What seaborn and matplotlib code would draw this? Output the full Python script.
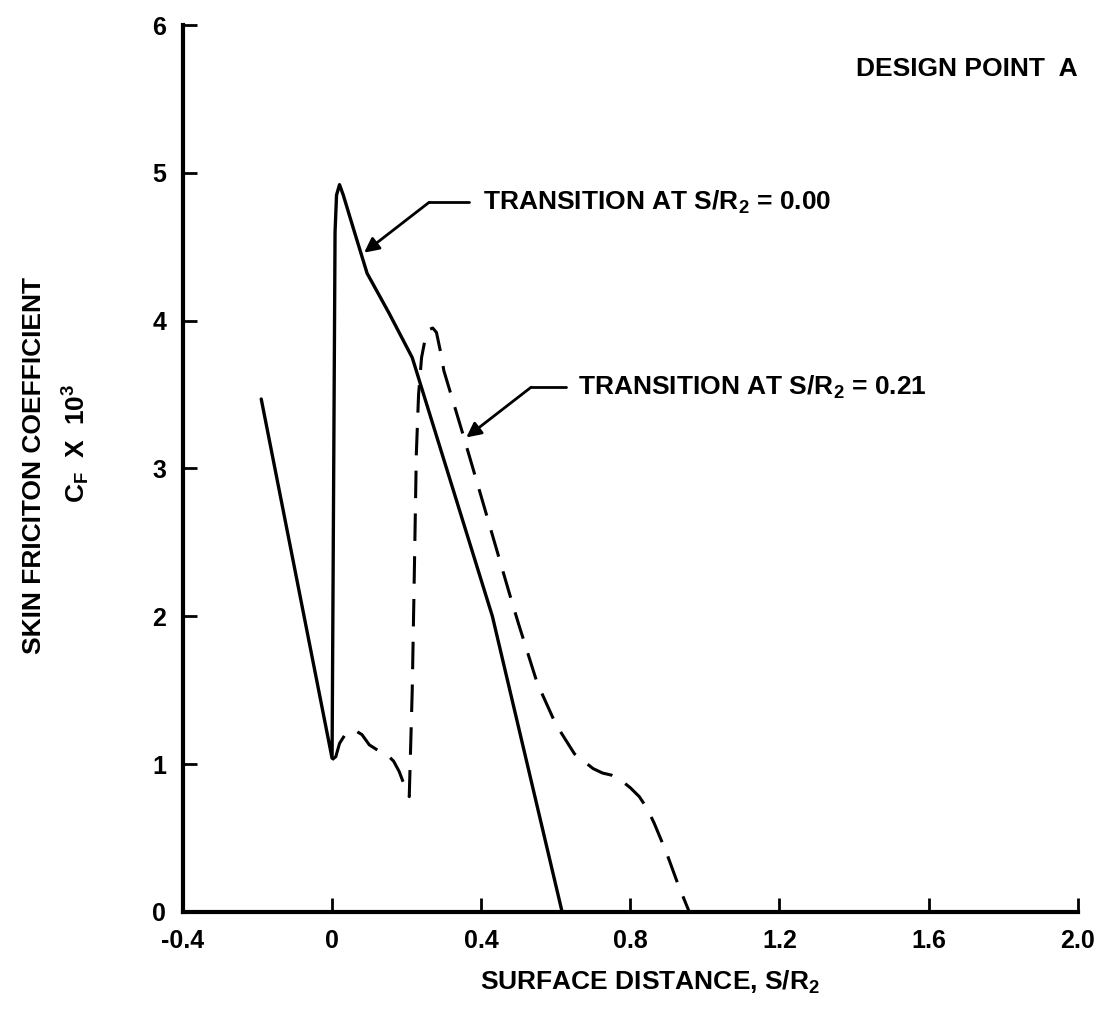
import matplotlib
matplotlib.use("Agg")
import matplotlib.pyplot as plt
import seaborn as sns
import pandas as pd

# Data
solid_x = [-0.19, 0.0, 0.008, 0.012, 0.02, 0.03, 0.06, 0.094, 0.153, 0.215, 0.43, 0.617]
solid_y = [3.47, 1.04, 4.6, 4.85, 4.92, 4.85, 4.6, 4.32, 4.05, 3.75, 2.0, 0.0]

dash_x = [0.0, 0.01, 0.02, 0.035, 0.06, 0.08, 0.1, 0.125, 0.145, 0.165, 0.18, 0.195,
          0.207, 0.215, 0.22, 0.226, 0.232, 0.24, 0.25, 0.26, 0.27, 0.28, 0.29, 0.30,
          0.35, 0.4, 0.475, 0.5, 0.55, 0.6, 0.65, 0.7, 0.725, 0.75, 0.77, 0.8, 0.824,
          0.845, 0.864, 0.897, 0.926, 0.958]
dash_y = [1.03, 1.05, 1.14, 1.2, 1.23, 1.2, 1.13, 1.09, 1.07, 1.02, 0.95, 0.85,
          0.78, 1.5, 2.2, 3.1, 3.5, 3.75, 3.88, 3.94, 3.95, 3.92, 3.8, 3.66,
          3.24, 2.81, 2.16, 1.95, 1.55, 1.27, 1.07, 0.97, 0.94, 0.925, 0.9, 0.84, 0.78,
          0.7, 0.6, 0.4, 0.2, 0.0]

x_ticks = [-0.4, 0.0, 0.4, 0.8, 1.2, 1.6, 2.0]
x_tick_labels = ["-0.4", "0", "0.4", "0.8", "1.2", "1.6", "2.0"]
y_ticks = [0, 1, 2, 3, 4, 5, 6]

sns.set_theme(style="white")
plt.rcParams["font.family"] = ["Liberation Sans", "DejaVu Sans"]
plt.rcParams["font.weight"] = "bold"
plt.rcParams["text.color"] = "black"
plt.rcParams["xtick.color"] = "black"
plt.rcParams["ytick.color"] = "black"
plt.rcParams["mathtext.fontset"] = "custom"
plt.rcParams["mathtext.rm"] = "Liberation Sans:bold"
plt.rcParams["mathtext.bf"] = "Liberation Sans:bold"
plt.rcParams["mathtext.it"] = "Liberation Sans:bold"
plt.rcParams["mathtext.default"] = "bf"

FS = 19

fig = plt.figure(figsize=(11.02, 10.17), dpi=100)
ax = fig.add_axes([0.166, 0.1033, 0.812, 0.8721])

df_s = pd.DataFrame({"x": solid_x, "y": solid_y})
df_d = pd.DataFrame({"x": dash_x, "y": dash_y})

sns.lineplot(data=df_s, x="x", y="y", ax=ax, color="black", lw=2.4, sort=False,
             estimator=None)
sns.lineplot(data=df_d, x="x", y="y", ax=ax, color="black", lw=2.2, sort=False,
             estimator=None)
ax.lines[-1].set_dashes([9, 5])

ax.set_xlim(-0.4, 2.0)
ax.set_ylim(0, 6)
ax.set_xticks(x_ticks)
ax.set_xticklabels(x_tick_labels)
ax.set_yticks(y_ticks)
ax.set_xlabel("")
ax.set_ylabel("")

for s in ["top", "right"]:
    ax.spines[s].set_visible(False)
for s in ["left", "bottom"]:
    ax.spines[s].set_color("black")
    ax.spines[s].set_linewidth(3)

ax.tick_params(axis="both", direction="in", length=10, width=2, color="black",
               labelsize=18, pad=12, bottom=True, left=True, labelcolor="black")
for lab in ax.get_xticklabels() + ax.get_yticklabels():
    lab.set_fontweight("bold")

# Axis labels
fig.text(650 / 1102, 1 - 982 / 1017, "SURFACE DISTANCE, S/R$_2$", ha="center",
         va="center", fontsize=FS, fontweight="bold")
fig.text(34 / 1102, 1 - 465 / 1017, "SKIN FRICITON COEFFICIENT", ha="center",
         va="center", rotation=90, fontsize=FS, fontweight="bold")
fig.text(76 / 1102, 1 - 443 / 1017, "C$_\\mathrm{F}$  X  10$^3$", ha="center",
         va="center", rotation=90, fontsize=FS, fontweight="bold")

# Annotations
ax.text(2.0, 5.7, "DESIGN POINT  A", ha="right", va="center", fontsize=FS,
        fontweight="bold")

ax.plot([0.368, 0.26], [4.80, 4.80], color="black", lw=2)
ax.annotate("", xy=(0.086, 4.46), xytext=(0.26, 4.80),
            arrowprops=dict(arrowstyle="-|>", color="black", lw=2,
                            mutation_scale=22, shrinkA=0, shrinkB=0))
ax.text(0.405, 4.80, "TRANSITION AT S/R$_2$ = 0.00", ha="left", va="center",
        fontsize=FS, fontweight="bold")

ax.plot([0.628, 0.534], [3.55, 3.55], color="black", lw=2)
ax.annotate("", xy=(0.36, 3.21), xytext=(0.534, 3.55),
            arrowprops=dict(arrowstyle="-|>", color="black", lw=2,
                            mutation_scale=22, shrinkA=0, shrinkB=0))
ax.text(0.66, 3.55, "TRANSITION AT S/R$_2$ = 0.21", ha="left", va="center",
        fontsize=FS, fontweight="bold")

fig.savefig("out.png", dpi=100, facecolor="white")
